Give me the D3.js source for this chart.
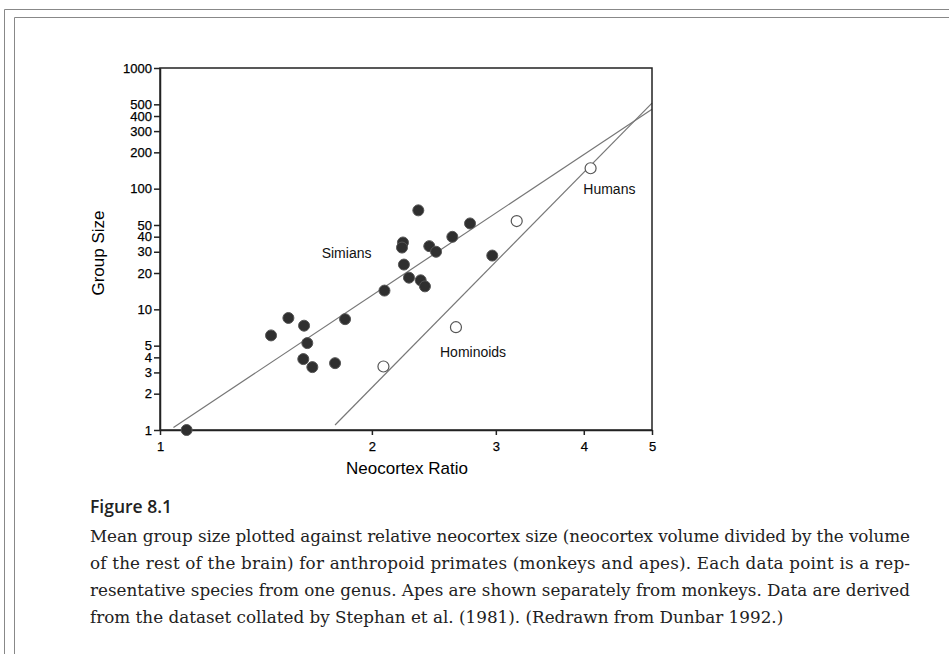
<!DOCTYPE html>
<meta charset="utf-8">
<head>
  <title>Group size vs neocortex ratio</title>
  <script src="https://d3js.org/d3.v7.min.js"></script>
  <style>
    body { margin: 0; background: #fff; }
    .frame { fill: none; stroke: #222; stroke-width: 1.5; }
    .axis path, .axis line { stroke: #222; stroke-width: 1.5; }
    .axis text { font-family: "Liberation Sans", Arial, sans-serif; font-size: 13px; fill: #000; stroke: #000; stroke-width: 0.25; }
    .fit { stroke: #777; stroke-width: 1.2; fill: none; }
    .note { font-family: "Liberation Sans", Arial, sans-serif; font-size: 14px; fill: #111; }
    .border { stroke: #888; stroke-width: 1; fill: none; }
  </style>
</head>
<body>
<script>
  // Neocortex ratio (x) and mean group size (y)
  var simianRatio = [1.091, 1.438, 1.522, 1.602, 1.619, 1.598, 1.646, 1.773, 1.832, 2.084, 2.214,
                     2.207, 2.221, 2.258, 2.346, 2.379, 2.328, 2.413, 2.467, 2.602, 2.757, 2.965];
  var simianGroup = [1.0, 6.08, 8.48, 7.32, 5.25, 3.87, 3.32, 3.58, 8.29, 14.3, 35.8,
                     32.5, 23.5, 18.3, 17.4, 15.5, 66.1, 33.4, 30.0, 39.9, 51.5, 27.9];
  var hominoidRatio = [2.077, 2.633, 3.212, 4.09];
  var hominoidGroup = [3.36, 7.11, 53.9, 147.6];

  // regression lines, as end points in data units
  var simianFit = [[1.045, 1.05], [5, 456]];
  var hominoidFit = [[1.773, 1.10], [5, 512]];

  var xTicks = [1, 2, 3, 4, 5];
  var yTicks = [1, 2, 3, 4, 5, 10, 20, 30, 40, 50, 100, 200, 300, 400, 500, 1000];

  var labels = [
    {text: "Simians", x: 1.697, y: 26.6},
    {text: "Hominoids", x: 2.499, y: 4.03},
    {text: "Humans", x: 3.994, y: 90.3}
  ];

  var captionTitle = "Figure 8.1";
  var captionLines = [
    "Mean group size plotted against relative neocortex size (neocortex volume divided by the volume",
    "of the rest of the brain) for anthropoid primates (monkeys and apes). Each data point is a rep-",
    "resentative species from one genus. Apes are shown separately from monkeys. Data are derived",
    "from the dataset collated by Stephan et al. (1981). (Redrawn from Dunbar 1992.)"
  ];

  var width = 949, height = 654;

  var svg = d3.select("body").append("svg")
    .attr("width", width)
    .attr("height", height);

  // page border lines
  svg.append("path").attr("class", "border")
    .attr("d", "M4.5," + height + "V9.5H" + width);
  svg.append("path").attr("class", "border")
    .attr("d", "M14.5," + height + "V17.5H" + width);

  var x = d3.scaleLog().domain([1, 5]).range([160, 652]);
  var y = d3.scaleLog().domain([1, 1000]).range([430, 68]);

  // fitted lines
  var line = d3.line()
    .x(function(d) { return x(d[0]); })
    .y(function(d) { return y(d[1]); });

  svg.append("path").datum(simianFit).attr("class", "fit").attr("d", line);
  svg.append("path").datum(hominoidFit).attr("class", "fit").attr("d", line);

  // frame
  svg.append("rect").attr("class", "frame")
    .attr("x", x(1)).attr("y", y(1000))
    .attr("width", x(5) - x(1)).attr("height", y(1) - y(1000));

  var xAxis = svg.append("g").attr("class", "axis")
    .attr("transform", "translate(0," + y(1) + ")")
    .call(d3.axisBottom(x).tickValues(xTicks).tickSize(5).tickSizeOuter(0).tickFormat(d3.format("d")));
  xAxis.selectAll("text").attr("dy", "0.95em").attr("y", 9);

  svg.append("g").attr("class", "axis")
    .attr("transform", "translate(" + x(1) + ",0)")
    .call(d3.axisLeft(y).tickValues(yTicks).tickSize(6).tickSizeOuter(0).tickPadding(2).tickFormat(d3.format("d")));

  // points
  var simians = simianRatio.map(function(r, i) { return [r, simianGroup[i]]; });
  var hominoids = hominoidRatio.map(function(r, i) { return [r, hominoidGroup[i]]; });

  svg.append("g").selectAll("circle")
    .data(simians)
    .enter().append("circle")
    .attr("cx", function(d) { return x(d[0]); })
    .attr("cy", function(d) { return y(d[1]); })
    .attr("r", 5.5)
    .style("fill", "#2f2f2f")
    .style("stroke", "#555")
    .style("stroke-width", 1);

  svg.append("g").selectAll("circle")
    .data(hominoids)
    .enter().append("circle")
    .attr("cx", function(d) { return x(d[0]); })
    .attr("cy", function(d) { return y(d[1]); })
    .attr("r", 5.5)
    .style("fill", "#fff")
    .style("stroke", "#555")
    .style("stroke-width", 1.2);

  // group labels
  svg.append("g").selectAll("text")
    .data(labels)
    .enter().append("text")
    .attr("class", "note")
    .attr("x", function(d) { return x(d.x); })
    .attr("y", function(d) { return y(d.y); })
    .text(function(d) { return d.text; });

  // axis titles
  svg.append("text")
    .attr("x", (x(1) + x(5)) / 2 + 1)
    .attr("y", 474)
    .attr("text-anchor", "middle")
    .style("font-family", "'Liberation Sans', Arial, sans-serif")
    .style("font-size", "17px")
    .text("Neocortex Ratio");

  svg.append("text")
    .attr("transform", "translate(104," + 253 + ") rotate(-90)")
    .attr("text-anchor", "middle")
    .style("font-family", "'Liberation Sans', Arial, sans-serif")
    .style("font-size", "17px")
    .text("Group Size");

  // caption
  svg.append("text")
    .attr("x", 90)
    .attr("y", 513)
    .style("font-family", "'Open Sans', 'Noto Sans', sans-serif")
    .style("font-weight", 600)
    .style("font-size", "17.5px")
    .style("fill", "#222")
    .text(captionTitle);

  svg.append("g").selectAll("text")
    .data(captionLines)
    .enter().append("text")
    .attr("x", 90)
    .attr("y", function(d, i) { return 542 + i * 27; })
    .style("font-family", "'DejaVu Serif', serif")
    .style("font-size", "16.8px")
    .style("fill", "#222")
    .each(function(d, i) {
      var t = d3.select(this).text(d);
      if (i < captionLines.length - 1) {
        t.attr("textLength", 820).attr("lengthAdjust", "spacing");
      }
    });
</script>
</body>
</html>
